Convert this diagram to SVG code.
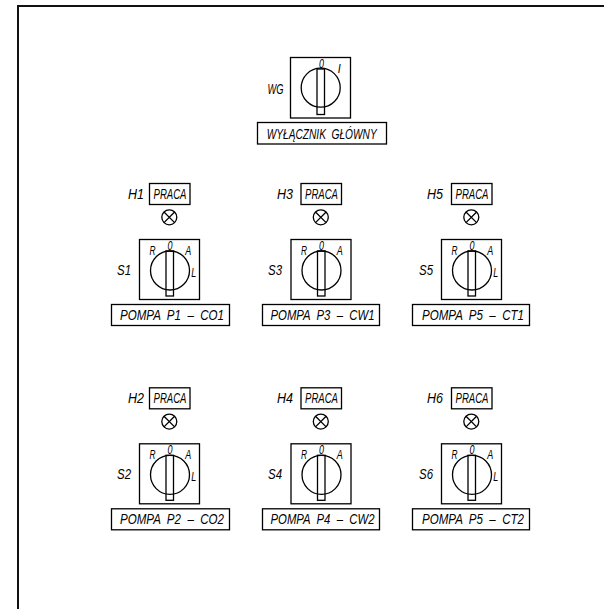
<svg xmlns="http://www.w3.org/2000/svg" width="604" height="609" viewBox="0 0 604 609">
<style>
.s{fill:none;stroke:#000;stroke-width:1.3}
.f{fill:none;stroke:#111;stroke-width:2}
text{font-family:"Liberation Sans",Arial,sans-serif;font-style:italic;font-size:14.5px;fill:#000;text-anchor:middle;white-space:pre}
.m{font-size:13px}
.b{font-size:15.5px}
</style>
<defs>
<g id="dial"><rect class="s" x="139.5" y="239.5" width="60" height="60"/><circle class="s" cx="170" cy="270.5" r="19.5"/><rect class="s" x="166" y="251" width="7.5" height="45"/></g>
<g id="lamp"><rect class="s" x="149.5" y="183.5" width="40.5" height="21"/><circle class="s" cx="169.3" cy="217.3" r="7.5"/><path class="s" d="M164 212L174.6 222.6M174.6 212L164 222.6"/></g>
</defs>
<rect width="604" height="609" fill="#fff"/>
<path class="f" d="M18 609V6H604"/>
<g id="WG">
<rect class="s" x="290.5" y="57.5" width="60" height="60.5"/><circle class="s" cx="320.7" cy="87.7" r="19.5"/><rect class="s" x="317" y="69" width="7.5" height="45.5"/>
<rect class="s" x="257.5" y="122.5" width="129" height="21.5"/>
<text x="275.5" y="93.5" class="b" textLength="16" lengthAdjust="spacingAndGlyphs">WG</text>
<text x="321.5" y="68" class="m" textLength="5" lengthAdjust="spacingAndGlyphs">0</text>
<text x="339.3" y="73.3" class="m" textLength="3" lengthAdjust="spacingAndGlyphs">I</text>
<text x="321.7" y="139" class="b" textLength="110" lengthAdjust="spacingAndGlyphs">WYŁĄCZNIK  GŁÓWNY</text>
</g>
<g id="S1">
<use href="#lamp"/><use href="#dial"/>
<rect class="s" x="111.5" y="304.5" width="118" height="21"/>
<text x="136" y="199" textLength="16" lengthAdjust="spacingAndGlyphs">H1</text>
<text x="170" y="199" textLength="33" lengthAdjust="spacingAndGlyphs">PRACA</text>
<text x="124" y="275" textLength="14" lengthAdjust="spacingAndGlyphs">S1</text>
<text x="170" y="250" class="m" textLength="5" lengthAdjust="spacingAndGlyphs">0</text>
<text x="152.5" y="255" class="m" textLength="6" lengthAdjust="spacingAndGlyphs">R</text>
<text x="188.3" y="255" class="m" textLength="6" lengthAdjust="spacingAndGlyphs">A</text>
<text x="193.7" y="276.7" class="m" textLength="5" lengthAdjust="spacingAndGlyphs">L</text>
<text x="172" y="319.5" textLength="104" lengthAdjust="spacingAndGlyphs">POMPA  P1  –  CO1</text>
</g>
<g id="S3" transform="translate(151.5 0)">
<use href="#lamp"/><use href="#dial"/>
<rect class="s" x="111" y="304.5" width="117" height="21"/>
<text x="133.5" y="199" textLength="16" lengthAdjust="spacingAndGlyphs">H3</text>
<text x="170" y="199" textLength="33" lengthAdjust="spacingAndGlyphs">PRACA</text>
<text x="123.5" y="275" textLength="14" lengthAdjust="spacingAndGlyphs">S3</text>
<text x="170" y="250" class="m" textLength="5" lengthAdjust="spacingAndGlyphs">0</text>
<text x="152.5" y="255" class="m" textLength="6" lengthAdjust="spacingAndGlyphs">R</text>
<text x="188.3" y="255" class="m" textLength="6" lengthAdjust="spacingAndGlyphs">A</text>
<text x="171" y="319.5" textLength="104" lengthAdjust="spacingAndGlyphs">POMPA  P3  –  CW1</text>
</g>
<g id="S5" transform="translate(302 0)">
<use href="#lamp"/><use href="#dial"/>
<rect class="s" x="110.5" y="304.5" width="117" height="21"/>
<text x="133" y="199" textLength="16" lengthAdjust="spacingAndGlyphs">H5</text>
<text x="170" y="199" textLength="33" lengthAdjust="spacingAndGlyphs">PRACA</text>
<text x="124" y="275" textLength="14" lengthAdjust="spacingAndGlyphs">S5</text>
<text x="170" y="250" class="m" textLength="5" lengthAdjust="spacingAndGlyphs">0</text>
<text x="152.5" y="255" class="m" textLength="6" lengthAdjust="spacingAndGlyphs">R</text>
<text x="188.3" y="255" class="m" textLength="6" lengthAdjust="spacingAndGlyphs">A</text>
<text x="193.7" y="276.7" class="m" textLength="5" lengthAdjust="spacingAndGlyphs">L</text>
<text x="171" y="319.5" textLength="102" lengthAdjust="spacingAndGlyphs">POMPA  P5  –  CT1</text>
</g>
<g id="S2" transform="translate(0 204.3)">
<use href="#lamp"/><use href="#dial"/>
<rect class="s" x="111.5" y="304.5" width="118" height="21"/>
<text x="136" y="199" textLength="16" lengthAdjust="spacingAndGlyphs">H2</text>
<text x="170" y="199" textLength="33" lengthAdjust="spacingAndGlyphs">PRACA</text>
<text x="124" y="275" textLength="14" lengthAdjust="spacingAndGlyphs">S2</text>
<text x="170" y="250" class="m" textLength="5" lengthAdjust="spacingAndGlyphs">0</text>
<text x="152.5" y="255" class="m" textLength="6" lengthAdjust="spacingAndGlyphs">R</text>
<text x="188.3" y="255" class="m" textLength="6" lengthAdjust="spacingAndGlyphs">A</text>
<text x="193.7" y="276.7" class="m" textLength="5" lengthAdjust="spacingAndGlyphs">L</text>
<text x="172" y="319.5" textLength="104" lengthAdjust="spacingAndGlyphs">POMPA  P2  –  CO2</text>
</g>
<g id="S4" transform="translate(151.5 204.3)">
<use href="#lamp"/><use href="#dial"/>
<rect class="s" x="111" y="304.5" width="117" height="21"/>
<text x="133.5" y="199" textLength="16" lengthAdjust="spacingAndGlyphs">H4</text>
<text x="170" y="199" textLength="33" lengthAdjust="spacingAndGlyphs">PRACA</text>
<text x="123.5" y="275" textLength="14" lengthAdjust="spacingAndGlyphs">S4</text>
<text x="170" y="250" class="m" textLength="5" lengthAdjust="spacingAndGlyphs">0</text>
<text x="152.5" y="255" class="m" textLength="6" lengthAdjust="spacingAndGlyphs">R</text>
<text x="188.3" y="255" class="m" textLength="6" lengthAdjust="spacingAndGlyphs">A</text>
<text x="171" y="319.5" textLength="104" lengthAdjust="spacingAndGlyphs">POMPA  P4  –  CW2</text>
</g>
<g id="S6" transform="translate(302 204.3)">
<use href="#lamp"/><use href="#dial"/>
<rect class="s" x="110.5" y="304.5" width="117" height="21"/>
<text x="133" y="199" textLength="16" lengthAdjust="spacingAndGlyphs">H6</text>
<text x="170" y="199" textLength="33" lengthAdjust="spacingAndGlyphs">PRACA</text>
<text x="124" y="275" textLength="14" lengthAdjust="spacingAndGlyphs">S6</text>
<text x="170" y="250" class="m" textLength="5" lengthAdjust="spacingAndGlyphs">0</text>
<text x="152.5" y="255" class="m" textLength="6" lengthAdjust="spacingAndGlyphs">R</text>
<text x="188.3" y="255" class="m" textLength="6" lengthAdjust="spacingAndGlyphs">A</text>
<text x="193.7" y="276.7" class="m" textLength="5" lengthAdjust="spacingAndGlyphs">L</text>
<text x="171" y="319.5" textLength="102" lengthAdjust="spacingAndGlyphs">POMPA  P5  –  CT2</text>
</g>
</svg>
